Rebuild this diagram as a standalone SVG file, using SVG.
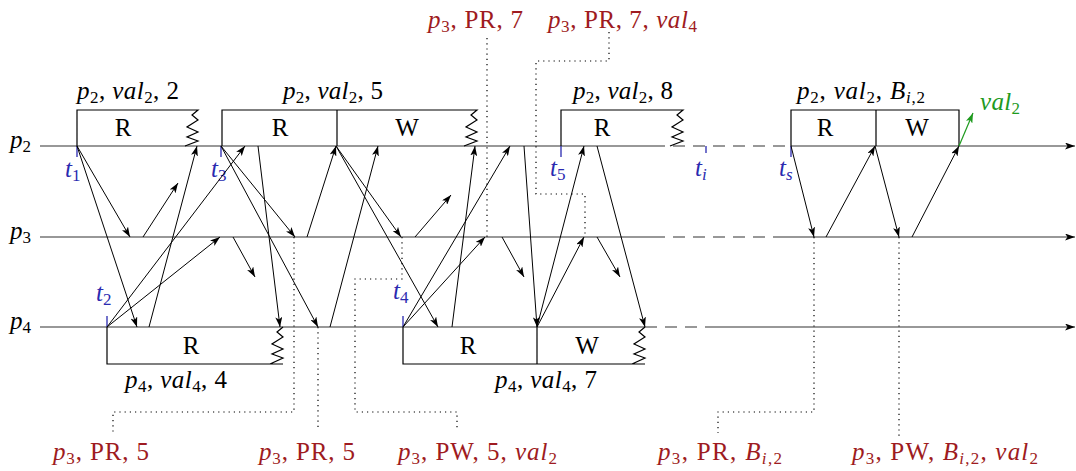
<svg xmlns="http://www.w3.org/2000/svg" width="1076" height="471" viewBox="0 0 1076 471">
<defs>
<marker id="ah" viewBox="0 0 10 7" refX="10" refY="3.5" markerWidth="10" markerHeight="7" markerUnits="userSpaceOnUse" orient="auto"><path d="M0,0 L10,3.5 L0,7 L2.5,3.5 z" fill="#000"/></marker>
<marker id="ahg" viewBox="0 0 10 7" refX="10" refY="3.5" markerWidth="10" markerHeight="7" markerUnits="userSpaceOnUse" orient="auto"><path d="M0,0 L10,3.5 L0,7 L2.5,3.5 z" fill="#1e9a1e"/></marker>
</defs>
<style>
text{font-family:"Liberation Serif","DejaVu Serif",serif;font-size:25px;fill:#000}
.i{font-style:italic}
.s{font-size:17px}
.red{fill:#9e1b21}
.blue{fill:#2a2ab0}
.green{fill:#1e9a1e}
.tl{stroke:#333;stroke-width:1.2;fill:none}
.dash{stroke-dasharray:12 8}
.box{stroke:#000;stroke-width:1.2;fill:none}
.msg{stroke:#000;stroke-width:1;fill:none;marker-end:url(#ah)}
.dot{stroke:#000;stroke-width:1.2;fill:none;stroke-dasharray:1.2 4}
.tick{stroke:#2a2ab0;stroke-width:1.3;fill:none}
</style>
<rect width="1076" height="471" fill="#fff"/>

<g id="timeline-p2">
<path class="tl" d="M40,146 H653"/><path class="tl dash" d="M653,146 H791"/><path class="tl" d="M791,146 H1075" marker-end="url(#ah)"/>
<text x="10" y="148"><tspan class="i">p</tspan><tspan class="s" dy="4">2</tspan></text>
</g>
<g id="timeline-p3">
<path class="tl" d="M40,237 H653"/><path class="tl dash" d="M653,237 H785"/><path class="tl" d="M785,237 H1075" marker-end="url(#ah)"/>
<text x="10" y="239"><tspan class="i">p</tspan><tspan class="s" dy="4">3</tspan></text>
</g>
<g id="timeline-p4">
<path class="tl" d="M40,327 H645"/><path class="tl dash" d="M645,327 H706"/><path class="tl" d="M706,327 H1075" marker-end="url(#ah)"/>
<text x="10" y="329"><tspan class="i">p</tspan><tspan class="s" dy="4">4</tspan></text>
</g>

<g id="op-p2-2">
<path class="box" d="M77,146 V110 H198 l-6,5 l6,5 l-11,7 l11,5 l-11,5 l11,4 l-13,5"/>
<text x="123" y="136" text-anchor="middle">R</text>
<text x="77" y="99" textLength="102" lengthAdjust="spacing"><tspan class="i">p</tspan><tspan class="s" dy="4">2</tspan><tspan dy="-4">, </tspan><tspan class="i">val</tspan><tspan class="s" dy="4">2</tspan><tspan dy="-4">, 2</tspan></text>
</g>
<g id="op-p2-5">
<path class="box" d="M222,146 V110 H477 l-6,5 l6,5 l-11,7 l11,5 l-11,5 l11,4 l-13,5"/>
<path class="box" d="M337,110 V146"/>
<text x="280" y="136" text-anchor="middle">R</text>
<text x="407" y="136" text-anchor="middle">W</text>
<text x="283" y="99" textLength="100" lengthAdjust="spacing"><tspan class="i">p</tspan><tspan class="s" dy="4">2</tspan><tspan dy="-4">, </tspan><tspan class="i">val</tspan><tspan class="s" dy="4">2</tspan><tspan dy="-4">, 5</tspan></text>
</g>
<g id="op-p2-8">
<path class="box" d="M561,146 V110 H683 l-6,5 l6,5 l-11,7 l11,5 l-11,5 l11,4 l-13,5"/>
<text x="602" y="136" text-anchor="middle">R</text>
<text x="573" y="99" textLength="100" lengthAdjust="spacing"><tspan class="i">p</tspan><tspan class="s" dy="4">2</tspan><tspan dy="-4">, </tspan><tspan class="i">val</tspan><tspan class="s" dy="4">2</tspan><tspan dy="-4">, 8</tspan></text>
</g>
<g id="op-p2-B">
<path class="box" d="M791,146 V110 H959 V146 M876,110 V146"/>
<text x="825" y="136" text-anchor="middle">R</text>
<text x="917" y="136" text-anchor="middle">W</text>
<text x="797" y="99" textLength="128" lengthAdjust="spacing"><tspan class="i">p</tspan><tspan class="s" dy="4">2</tspan><tspan dy="-4">, </tspan><tspan class="i">val</tspan><tspan class="s" dy="4">2</tspan><tspan dy="-4">, </tspan><tspan class="i">B</tspan><tspan class="s" dy="4"><tspan class="i">i</tspan>,2</tspan></text>
<text class="green" x="980" y="110" textLength="40" lengthAdjust="spacing"><tspan class="i">val</tspan><tspan class="s" dy="4">2</tspan></text>
</g>
<g id="op-p4-4">
<path class="box" d="M107,327 V364 H283 M283,327 l-6,5 l6,5 l-11,7 l11,5 l-11,5 l11,4 l-13,6"/>
<text x="191" y="354" text-anchor="middle">R</text>
<text x="125" y="388" textLength="102" lengthAdjust="spacing"><tspan class="i">p</tspan><tspan class="s" dy="4">4</tspan><tspan dy="-4">, </tspan><tspan class="i">val</tspan><tspan class="s" dy="4">4</tspan><tspan dy="-4">, 4</tspan></text>
</g>
<g id="op-p4-7">
<path class="box" d="M403,327 V364 H645 M645,327 l-6,5 l6,5 l-11,7 l11,5 l-11,5 l11,4 l-13,6 M537,327 V364"/>
<text x="468" y="354" text-anchor="middle">R</text>
<text x="587" y="354" text-anchor="middle">W</text>
<text x="495" y="388" textLength="102" lengthAdjust="spacing"><tspan class="i">p</tspan><tspan class="s" dy="4">4</tspan><tspan dy="-4">, </tspan><tspan class="i">val</tspan><tspan class="s" dy="4">4</tspan><tspan dy="-4">, 7</tspan></text>
</g>

<g id="time-marks">
<path class="tick" d="M77,146 V157 M221,146 V157 M561,146 V157 M706,146 V153 M791,146 V157 M107,316 V327 M403,316 V327"/>
<text class="blue" x="65" y="177"><tspan class="i">t</tspan><tspan class="s" dy="4">1</tspan></text>
<text class="blue" x="211" y="177"><tspan class="i">t</tspan><tspan class="s" dy="4">3</tspan></text>
<text class="blue" x="550" y="176"><tspan class="i">t</tspan><tspan class="s" dy="4">5</tspan></text>
<text class="blue" x="695" y="176"><tspan class="i">t</tspan><tspan class="s i" dy="4">i</tspan></text>
<text class="blue" x="779" y="176"><tspan class="i">t</tspan><tspan class="s i" dy="4">s</tspan></text>
<text class="blue" x="96" y="301"><tspan class="i">t</tspan><tspan class="s" dy="4">2</tspan></text>
<text class="blue" x="393" y="299"><tspan class="i">t</tspan><tspan class="s" dy="4">4</tspan></text>
</g>

<g id="connectors">
<path class="msg" d="M77,146 L130,237"/>
<path class="msg" d="M77,146 L137,327"/>
<path class="msg" d="M143,237 L178,183"/>
<path class="msg" d="M149,327 L197,146"/>
<path class="msg" d="M107,327 L245,146"/>
<path class="msg" d="M107,327 L220,237"/>
<path class="msg" d="M233,237 L255,277"/>
<path class="msg" d="M221,146 L295,237"/>
<path class="msg" d="M221,146 L318,327"/>
<path class="msg" d="M258,146 L280,327"/>
<path class="msg" d="M307,237 L336,146"/>
<path class="msg" d="M336,146 L401,237"/>
<path class="msg" d="M336,146 L438,327"/>
<path class="msg" d="M330,327 L378,146"/>
<path class="msg" d="M452,327 L475,146"/>
<path class="msg" d="M403,327 L510,146"/>
<path class="msg" d="M403,327 L485,237"/>
<path class="msg" d="M415,237 L451,195"/>
<path class="msg" d="M502,237 L524,277"/>
<path class="msg" d="M524,146 L537,327"/>
<path class="msg" d="M537,327 L584,146"/>
<path class="msg" d="M537,327 L584,237"/>
<path class="msg" d="M597,237 L620,277"/>
<path class="msg" d="M597,146 L645,327"/>
<path class="msg" d="M791,146 L814,237"/>
<path class="msg" d="M826,237 L875,146"/>
<path class="msg" d="M875,146 L899,237"/>
<path class="msg" d="M912,237 L959,146"/>
<path d="M959,146 L973,113" stroke="#1e9a1e" stroke-width="1.2" fill="none" marker-end="url(#ahg)"/>
</g>

<g id="annotations">
<path class="dot" d="M487,38 V237"/>
<path class="dot" d="M609,32 V61 H536 V194 H585 V237"/>
<path class="dot" d="M294,237 V412 H113 V432"/>
<path class="dot" d="M318,327 V430"/>
<path class="dot" d="M402,237 V279 H355 V412 H457 V430"/>
<path class="dot" d="M814,237 V412 H718 V433"/>
<path class="dot" d="M899,237 V437"/>
<text class="red" x="428" y="28" textLength="95" lengthAdjust="spacing"><tspan class="i">p</tspan><tspan class="s" dy="4">3</tspan><tspan dy="-4">, PR, 7</tspan></text>
<text class="red" x="548" y="28" textLength="149" lengthAdjust="spacing"><tspan class="i">p</tspan><tspan class="s" dy="4">3</tspan><tspan dy="-4">, PR, 7, </tspan><tspan class="i">val</tspan><tspan class="s" dy="4">4</tspan></text>
<text class="red" x="53" y="460" textLength="96" lengthAdjust="spacing"><tspan class="i">p</tspan><tspan class="s" dy="4">3</tspan><tspan dy="-4">, PR, 5</tspan></text>
<text class="red" x="259" y="460" textLength="96" lengthAdjust="spacing"><tspan class="i">p</tspan><tspan class="s" dy="4">3</tspan><tspan dy="-4">, PR, 5</tspan></text>
<text class="red" x="398" y="460" textLength="159" lengthAdjust="spacing"><tspan class="i">p</tspan><tspan class="s" dy="4">3</tspan><tspan dy="-4">, PW, 5, </tspan><tspan class="i">val</tspan><tspan class="s" dy="4">2</tspan></text>
<text class="red" x="658" y="460" textLength="124" lengthAdjust="spacing"><tspan class="i">p</tspan><tspan class="s" dy="4">3</tspan><tspan dy="-4">, PR, </tspan><tspan class="i">B</tspan><tspan class="s" dy="4"><tspan class="i">i</tspan>,2</tspan></text>
<text class="red" x="852" y="460" textLength="186" lengthAdjust="spacing"><tspan class="i">p</tspan><tspan class="s" dy="4">3</tspan><tspan dy="-4">, PW, </tspan><tspan class="i">B</tspan><tspan class="s" dy="4"><tspan class="i">i</tspan>,2</tspan><tspan dy="-4">, </tspan><tspan class="i">val</tspan><tspan class="s" dy="4">2</tspan></text>
</g>
</svg>
